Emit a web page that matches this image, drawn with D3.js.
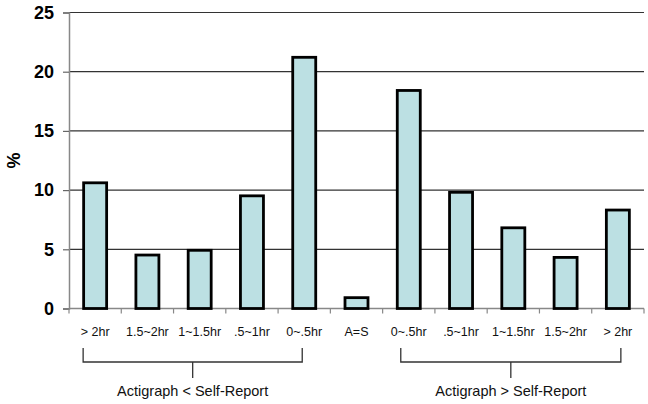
<!DOCTYPE html>
<html><head><meta charset="utf-8">
<script src="https://cdn.jsdelivr.net/npm/d3@7"></script>
<style>body{margin:0;background:#fff}svg{display:block}</style>
</head><body>
<script>
const categories = ["> 2hr","1.5~2hr","1~1.5hr",".5~1hr","0~.5hr","A=S","0~.5hr",".5~1hr","1~1.5hr","1.5~2hr","> 2hr"];
const values = [10.7,4.6,5.0,9.6,21.3,1.0,18.5,9.9,6.9,4.4,8.4];
const yTicks = [0,5,10,15,20,25];
const groupLabels = ["Actigraph < Self-Report","Actigraph > Self-Report"];
const groups = [[0,4],[6,10]];

const W=648,H=404, mLeft=69, mRight=644, mTop=12.5, mBottom=308.5;
const svg=d3.select("body").append("svg").attr("width",W).attr("height",H);
const keys=categories.map((c,i)=>i);
const x=d3.scaleBand().domain(keys).range([mLeft,mRight]).paddingInner(0).paddingOuter(0);
const y=d3.scaleLinear().domain([0,25]).range([mBottom,mTop]);

// gridlines
svg.append("g").selectAll("line").data(yTicks.filter(d=>d>0)).join("line")
  .attr("x1",mLeft).attr("x2",mRight).attr("y1",d=>y(d)).attr("y2",d=>y(d))
  .attr("stroke","#333").attr("stroke-width",1.2);

// y axis
const ya=svg.append("g").attr("transform",`translate(${mLeft},0)`)
  .call(d3.axisLeft(y).tickValues(yTicks).tickSize(6).tickPadding(9));
ya.select(".domain").attr("stroke","#888").attr("stroke-width",1.5);
ya.selectAll(".tick line").attr("stroke","#666").attr("stroke-width",1.2);
ya.selectAll("text").attr("font-family","Liberation Sans, Arial, sans-serif")
  .attr("font-size",18).attr("font-weight","bold").attr("fill","#000");

// x axis
const xa=svg.append("g").attr("transform",`translate(0,${mBottom})`);
xa.append("line").attr("x1",mLeft).attr("x2",mRight).attr("stroke","#888").attr("stroke-width",1.5);
const bounds=keys.map(k=>x(k)).concat([mRight]);
xa.selectAll("line.t").data(bounds).join("line").attr("class","t")
  .attr("x1",d=>d).attr("x2",d=>d).attr("y1",0).attr("y2",5)
  .attr("stroke","#888").attr("stroke-width",1.2);
xa.selectAll("text").data(keys).join("text")
  .attr("x",k=>x(k)+x.bandwidth()/2).attr("y",27)
  .attr("text-anchor","middle").attr("font-family","Liberation Sans, Arial, sans-serif")
  .attr("font-size",12.5).attr("fill","#111").text(k=>categories[k]);

// y label
svg.append("text").attr("transform",`translate(20,${(mTop+mBottom)/2}) rotate(-90)`)
  .attr("text-anchor","middle").attr("font-family","Liberation Sans, Arial, sans-serif")
  .attr("font-size",18).attr("font-weight","bold").text("%");

// bars
const bw=x.bandwidth()*0.44;
svg.append("g").selectAll("rect").data(keys).join("rect")
  .attr("x",k=>x(k)+(x.bandwidth()-bw)/2).attr("width",bw)
  .attr("y",k=>y(values[k])+1).attr("height",k=>mBottom-y(values[k])-1)
  .attr("fill","#BCE0E3").attr("stroke","#000").attr("stroke-width",2.8);

// brackets
const offs=[[-12,-2],[-8,3]];
groups.forEach((g,i)=>{
  const x1=x(g[0])+x.bandwidth()/2+offs[i][0], x2=x(g[1])+x.bandwidth()/2+offs[i][1];
  const mid=(x1+x2)/2;
  const gg=svg.append("g").attr("stroke","#333").attr("stroke-width",1.3).attr("fill","none");
  gg.append("path").attr("d",`M${x1},348V362H${x2}V348`);
  gg.append("line").attr("x1",mid).attr("x2",mid).attr("y1",362).attr("y2",378);
  svg.append("text").attr("x",mid).attr("y",396).attr("text-anchor","middle")
    .attr("font-family","Liberation Sans, Arial, sans-serif").attr("font-size",14.5)
    .attr("fill","#111").text(groupLabels[i]);
});
</script>
</body></html>
